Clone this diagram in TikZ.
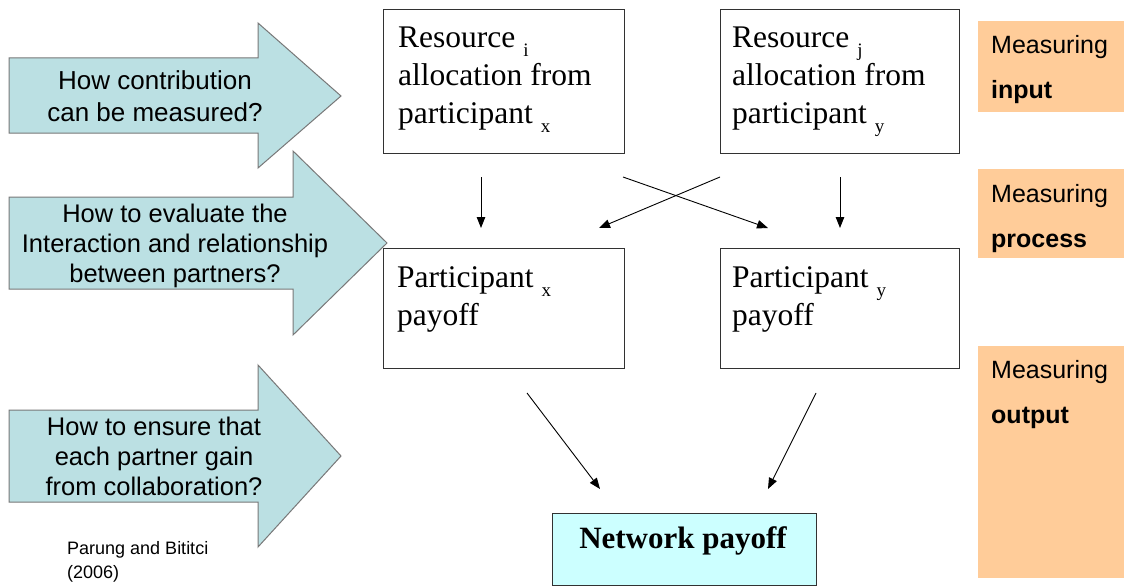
\documentclass[tikz,border=0pt]{standalone}
\usepackage{fontspec}
\setmainfont{Liberation Serif}
\newfontfamily\arial{Liberation Sans}
\usetikzlibrary{arrows.meta}
\definecolor{arrowfill}{RGB}{187,224,227}
\definecolor{arrowline}{RGB}{120,120,120}
\definecolor{peach}{RGB}{255,204,153}
\definecolor{netfill}{RGB}{204,255,255}
\definecolor{boxline}{RGB}{50,50,50}
% lowered, smaller index letter after a word (kept out of the line spacing)
\newcommand\lowsub[1]{\smash{\raisebox{-9pt}{\fontsize{19}{19}\selectfont #1}}}
% left-aligned / centred line stacks whose reference point is the first baseline
\newcommand\lstack[1]{\begin{tabular}[t]{@{}l@{}}#1\end{tabular}}
\newcommand\cstack[1]{\begin{tabular}[t]{@{}c@{}}#1\end{tabular}}

\begin{document}
\begin{tikzpicture}[x=1pt,y=-1pt,
  qarrow/.style={fill=arrowfill, draw=arrowline, line width=1pt, line join=miter},
  qtext/.style={font=\arial\fontsize{25.5}{30}\selectfont, inner sep=0pt, anchor=base},
  rbox/.style={draw=boxline, line width=1.1pt, fill=white, anchor=north west, inner sep=0pt},
  btext/.style={font=\fontsize{31.5}{38}\selectfont, inner sep=0pt, anchor=base west},
  mbox/.style={fill=peach, anchor=north west, inner sep=0pt, minimum width=146},
  mtext/.style={font=\arial\fontsize{25}{45}\selectfont, inner sep=0pt, anchor=base west},
  link/.style={line width=0.9pt, -{Triangle[length=11pt,width=8.5pt]}},
  cite/.style={font=\arial\fontsize{18}{24}\selectfont, inner sep=0pt, anchor=base west}]

\useasboundingbox (0,0) rectangle (1124,586);
\fill[white] (0,0) rectangle (1124,586);

% question arrows on the left
\draw[qarrow] (9,58) -- (258,58) -- (258,23) -- (341,96) -- (258,168) -- (258,133) -- (9,133) -- cycle;
\draw[qarrow] (9,197) -- (293,197) -- (293,151) -- (387,243) -- (293,335) -- (293,289) -- (9,289) -- cycle;
\draw[qarrow] (9,410) -- (258,410) -- (258,365) -- (341,456) -- (258,547) -- (258,502) -- (9,502) -- cycle;

\node[qtext, font=\arial\fontsize{26}{32}\selectfont] (q1) at (155,89) {\cstack{How contribution\\can be measured?}};
\node[qtext] (q2) at (175,222) {\cstack{How to evaluate the\\Interaction and relationship\\between partners?}};
\node[qtext] (q3) at (154,435) {\cstack{How to ensure that\\each partner gain\\from collaboration?}};

\node[cite] (src) at (67,554) {\lstack{Parung and Bititci\\(2006)}};

% resource and payoff boxes
\node[rbox, minimum width=241, minimum height=144] (res1) at (383,9) {};
\node[rbox, minimum width=239, minimum height=144] (res2) at (720,9) {};
\node[rbox, minimum width=241, minimum height=120] (pay1) at (383,248) {};
\node[rbox, minimum width=239, minimum height=120] (pay2) at (720,248) {};
\node[rbox, fill=netfill, minimum width=264, minimum height=72] (net) at (552,513) {};

\node[btext] (res1t) at (398,48) {\lstack{Resource \lowsub{i}\\allocation from\\participant \lowsub{x}}};
\node[btext] (res2t) at (732,48) {\lstack{Resource \lowsub{j}\\allocation from\\participant \lowsub{y}}};
\node[btext] (pay1t) at (397,287) {\lstack{Participant \lowsub{x}\\payoff}};
\node[btext] (pay2t) at (732,287) {\lstack{Participant \lowsub{y}\\payoff}};
\node[btext, anchor=base, font=\bfseries\fontsize{31}{38}\selectfont] (nett) at (683,548) {Network payoff};

% measuring labels on the right
\node[mbox, minimum height=91] (min) at (978,21) {};
\node[mbox, minimum height=89] (mproc) at (978,169) {};
\node[mbox, minimum height=232] (mout) at (978,346) {};
\node[mtext] (mint) at (991,53) {\lstack{Measuring\\\textbf{input}}};
\node[mtext] (mproct) at (991,202) {\lstack{Measuring\\\textbf{process}}};
\node[mtext] (moutt) at (991,378) {\lstack{Measuring\\\textbf{output}}};

% connector end points
\coordinate (d1a) at (481,177); \coordinate (d1b) at (481,228);
\coordinate (d2a) at (840,177); \coordinate (d2b) at (840,228);
\coordinate (c1a) at (623,177); \coordinate (c1b) at (768,228);
\coordinate (c2a) at (720,177); \coordinate (c2b) at (599,228);
\coordinate (e1a) at (527,393); \coordinate (e1b) at (600,489);
\coordinate (e2a) at (816,393); \coordinate (e2b) at (768,489);

\draw[link] (d1a) -- (d1b);
\draw[link] (d2a) -- (d2b);
\draw[link] (c1a) -- (c1b);
\draw[link] (c2a) -- (c2b);
\draw[link] (e1a) -- (e1b);
\draw[link] (e2a) -- (e2b);
\end{tikzpicture}
\end{document}
